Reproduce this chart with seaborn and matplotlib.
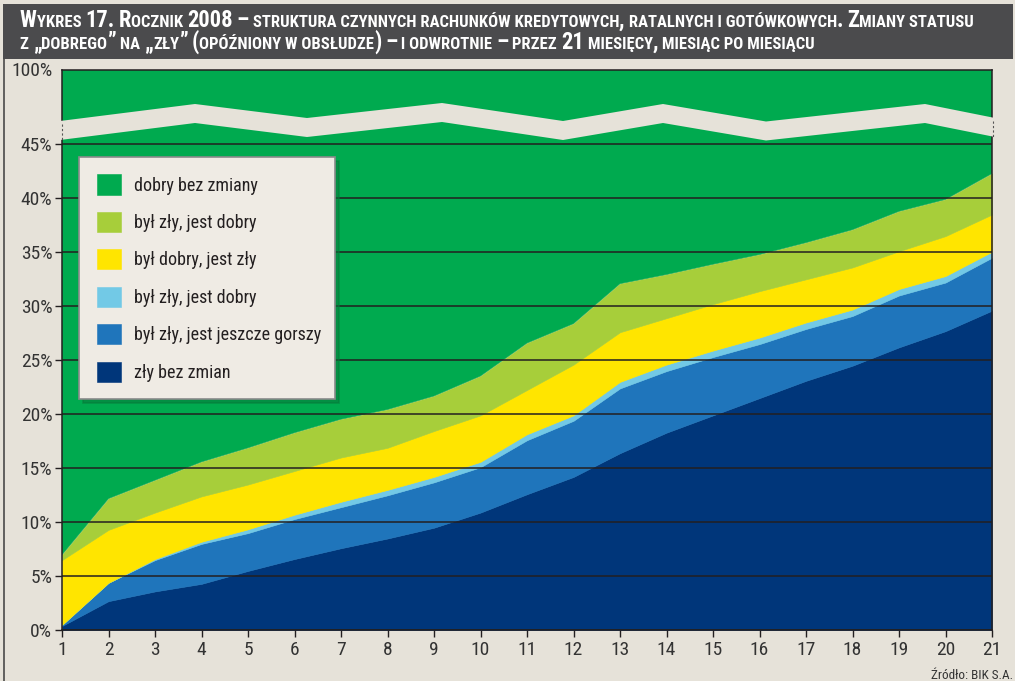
import matplotlib
matplotlib.use("Agg")
import matplotlib.pyplot as plt
import seaborn as sns
from matplotlib.patches import Polygon, Rectangle
from matplotlib.lines import Line2D
from matplotlib.font_manager import FontProperties

# ---------------------------------------------------------------- data (%)
months = list(range(1, 22))

zly_bez_zmian = [0.4, 2.7, 3.6, 4.3, 5.5, 6.6, 7.6, 8.5, 9.5, 10.9, 12.6,
                 14.2, 16.4, 18.3, 19.9, 21.5, 23.1, 24.5, 26.2, 27.7, 29.6]
zly_jeszcze_gorszy = [0.1, 1.7, 2.9, 3.7, 3.5, 3.7, 3.8, 4.0, 4.2, 4.2, 5.0,
                      5.2, 6.0, 5.7, 5.4, 5.0, 4.8, 4.6, 4.8, 4.5, 4.9]
zly_na_dobry_b = [0.0, 0.0, 0.1, 0.2, 0.35, 0.4, 0.5, 0.5, 0.5, 0.5, 0.55,
                  0.5, 0.6, 0.6, 0.6, 0.6, 0.6, 0.6, 0.6, 0.6, 0.55]
dobry_na_zly = [6.0, 4.9, 4.3, 4.2, 4.15, 4.05, 4.1, 3.9, 4.25, 4.3, 4.1,
                4.7, 4.6, 4.3, 4.3, 4.3, 4.0, 3.9, 3.5, 3.7, 3.45]
zly_na_dobry = [0.5, 2.9, 3.0, 3.2, 3.4, 3.55, 3.55, 3.55, 3.25, 3.65, 4.35,
                3.8, 4.5, 4.05, 3.7, 3.4, 3.4, 3.5, 3.7, 3.4, 3.8]
dobry_bez_zmiany = [93.0, 87.8, 86.1, 84.4, 83.1, 81.7, 80.45, 79.55, 78.3,
                    76.45, 73.4, 71.6, 67.9, 67.05, 66.1, 65.2, 64.1, 62.9,
                    61.2, 60.1, 57.7]

series_labels = ["zły bez zmian", "był zły, jest jeszcze gorszy",
                 "był zły, jest dobry", "był dobry, jest zły",
                 "był zły, jest dobry", "dobry bez zmiany"]
series_colors = ["#00367a", "#1f75bb", "#72c9e6", "#ffe500", "#a7ce3a",
                 "#00aa4f"]

y_ticks = [0, 5, 10, 15, 20, 25, 30, 35, 40, 45]
y_tick_labels = ["0%", "5%", "10%", "15%", "20%", "25%", "30%", "35%",
                 "40%", "45%"]
top_tick = 100
top_tick_label = "100%"

title_line1 = ("Wykres 17. Rocznik 2008 – struktura czynnych rachunków "
               "kredytowych, ratalnych i gotówkowych. Zmiany statusu")
title_line2 = ("z „dobrego” na „zły” (opóźniony w obsłudze) – i odwrotnie – "
               "przez 21 miesięcy, miesiąc po miesiącu")
source_text = "Źródło: BIK S.A."

# ---------------------------------------------------------------- style
BG = "#e6e2d9"
INK = "#231f20"
FAMILY = ["Roboto Condensed", "Liberation Sans Narrow",
          "DejaVu Sans Condensed", "Roboto", "DejaVu Sans"]

sns.set_theme(style="white", rc={"figure.facecolor": BG,
                                 "axes.facecolor": BG})
plt.rcParams["font.family"] = FAMILY
palette = sns.color_palette(series_colors)

W, H = 1015, 681
fig = plt.figure(figsize=(W / 100, H / 100), dpi=100, facecolor=BG)
renderer = fig.canvas.get_renderer()


def fx(px):
    return px / W


def fy(py):
    return 1 - py / H


def text_width(s, size, weight="normal"):
    fp = FontProperties(family=FAMILY, weight=weight, size=size)
    w_full, _, _ = renderer.get_text_width_height_descent("x" + s + "x", fp,
                                                          ismath=False)
    w_pad, _, _ = renderer.get_text_width_height_descent("xx", fp,
                                                         ismath=False)
    return w_full - w_pad


# plot geometry (pixels)
X0, X1 = 62, 992
ZERO, PPP = 630.3, 10.8          # baseline and pixels per percent
SPLIT, TOP = 121.8, 69.5         # axis break and top of the 100% section

stack = [zly_bez_zmian, zly_jeszcze_gorszy, zly_na_dobry_b, dobry_na_zly,
         zly_na_dobry, dobry_bez_zmiany]

ax = fig.add_axes([fx(X0), fy(ZERO), (X1 - X0) / W, (ZERO - SPLIT) / H])
ax_top = fig.add_axes([fx(X0), fy(SPLIT), (X1 - X0) / W, (SPLIT - TOP) / H])

polys = ax.stackplot(months, *stack, colors=palette, labels=series_labels,
                     edgecolor="face", linewidth=0.4)
ax_top.stackplot(months, *stack, colors=palette, edgecolor="face",
                 linewidth=0.4)

ax.set_xlim(1, 21)
ax.set_ylim(0, (ZERO - SPLIT) / PPP)
ax_top.set_xlim(1, 21)
ax_top.set_ylim(100 - (SPLIT - TOP) / PPP, 100)

# horizontal gridlines drawn over the areas
ax.set_axisbelow(False)
ax.yaxis.grid(True, color=INK, linewidth=1.1)
ax.xaxis.grid(False)

TICK_FS = 14
ax.set_yticks(y_ticks, y_tick_labels)
ax.set_xticks(months, [str(m) for m in months])
ax.tick_params(axis="y", direction="out", length=5, width=1.0, color=INK,
               pad=2, labelsize=TICK_FS, labelcolor="#333333")
ax.tick_params(axis="x", direction="out", length=5, width=1.0, color=INK,
               pad=3, labelsize=TICK_FS, labelcolor="#333333")
ax.tick_params(left=True, bottom=True)

ax_top.set_yticks([top_tick], [top_tick_label])
ax_top.set_xticks([])
ax_top.tick_params(axis="y", length=0, pad=7, labelsize=TICK_FS,
                   labelcolor="#333333")

for sp in ax.spines.values():
    sp.set_color(INK)
    sp.set_linewidth(1.1)
ax.spines["top"].set_visible(False)
for sp in ax_top.spines.values():
    sp.set_color(INK)
    sp.set_linewidth(1.1)
ax_top.spines["bottom"].set_visible(False)

# legend, listed from the top layer down; font sized so the longest label
# fits the box
longest = max(series_labels, key=lambda s: text_width(s, 14))
leg_fs = min(14, 14 * 188 / text_width(longest, 14))
leg_px = leg_fs * 100 / 72
leg = ax.legend(polys[::-1], series_labels[::-1], loc="upper left",
                bbox_to_anchor=(fx(79), fy(397), 256 / W, 240 / H),
                bbox_transform=fig.transFigure, borderaxespad=0,
                mode="expand", frameon=True, fancybox=False,
                shadow={"color": "#067a3a", "alpha": 0.55, "ox": 3, "oy": -3},
                fontsize=leg_fs, handlelength=24 / leg_px,
                handleheight=24 / leg_px, handletextpad=14 / leg_px,
                labelspacing=17.4 / leg_px, borderpad=17.5 / leg_px,
                labelcolor=INK)
frame = leg.get_frame()
frame.set_facecolor("#efebe4")
frame.set_edgecolor("#8a8a8a")
frame.set_linewidth(1.2)
frame.set_alpha(1)

# zig-zag axis break band
upper = [(60, 121), (195, 104), (307, 118), (442, 103), (563, 121),
         (663, 104), (766, 121.5), (925, 104), (995, 118)]
band_h = 19
pts = [(fx(x), fy(y)) for x, y in upper] + \
      [(fx(x), fy(y + band_h)) for x, y in upper[::-1]]
fig.add_artist(Polygon(pts, closed=True, transform=fig.transFigure,
                       facecolor=BG, edgecolor="none", zorder=5))
for xb, yb in [(X0, 121), (X1 + 0.5, 118)]:
    fig.add_artist(Line2D([fx(xb), fx(xb)], [fy(yb + 3), fy(yb + band_h)],
                          transform=fig.transFigure, color="#555555",
                          lw=0.8, linestyle=(0, (2, 2)), zorder=6))

# header bar and left frame line
fig.add_artist(Rectangle((fx(3), fy(59)), (1013 - 3) / W, (59 - 4) / H,
                         transform=fig.transFigure, facecolor="#4b4b4d",
                         edgecolor="none", zorder=1))
fig.add_artist(Line2D([fx(3.5), fx(3.5)], [fy(59), fy(681)],
                      transform=fig.transFigure, color="#4a4a4a", lw=1.2))


# small-caps title
def smallcaps_runs(text, big, small):
    runs = []
    for ch in text:
        size = small if (ch.islower() or ch == " ") else big
        if runs and runs[-1][1] == size:
            runs[-1][0] += ch.upper()
        else:
            runs.append([ch.upper(), size])
    return runs


def line_width(text, big, small):
    return sum(text_width(s, sz, "bold")
               for s, sz in smallcaps_runs(text, big, small))


BIG, SMALL = 13.0, 9.6
scale = 958 / line_width(title_line1, BIG, SMALL)
scale = min(max(scale, 0.75), 1.25)
BIG, SMALL = BIG * scale, SMALL * scale


def draw_smallcaps(text, x_px, base_px):
    x = x_px
    for s, sz in smallcaps_runs(text, BIG, SMALL):
        fig.text(fx(x), fy(base_px), s, fontsize=sz, fontweight="bold",
                 color="white", ha="left", va="baseline", zorder=3)
        x += text_width(s, sz, "bold")


draw_smallcaps(title_line1, 20, 27)
draw_smallcaps(title_line2, 20, 49)

fig.text(fx(1013), fy(679), source_text, ha="right", va="baseline",
         fontsize=9.5, color="#333333")

fig.savefig("out.png", dpi=100, facecolor=BG)
